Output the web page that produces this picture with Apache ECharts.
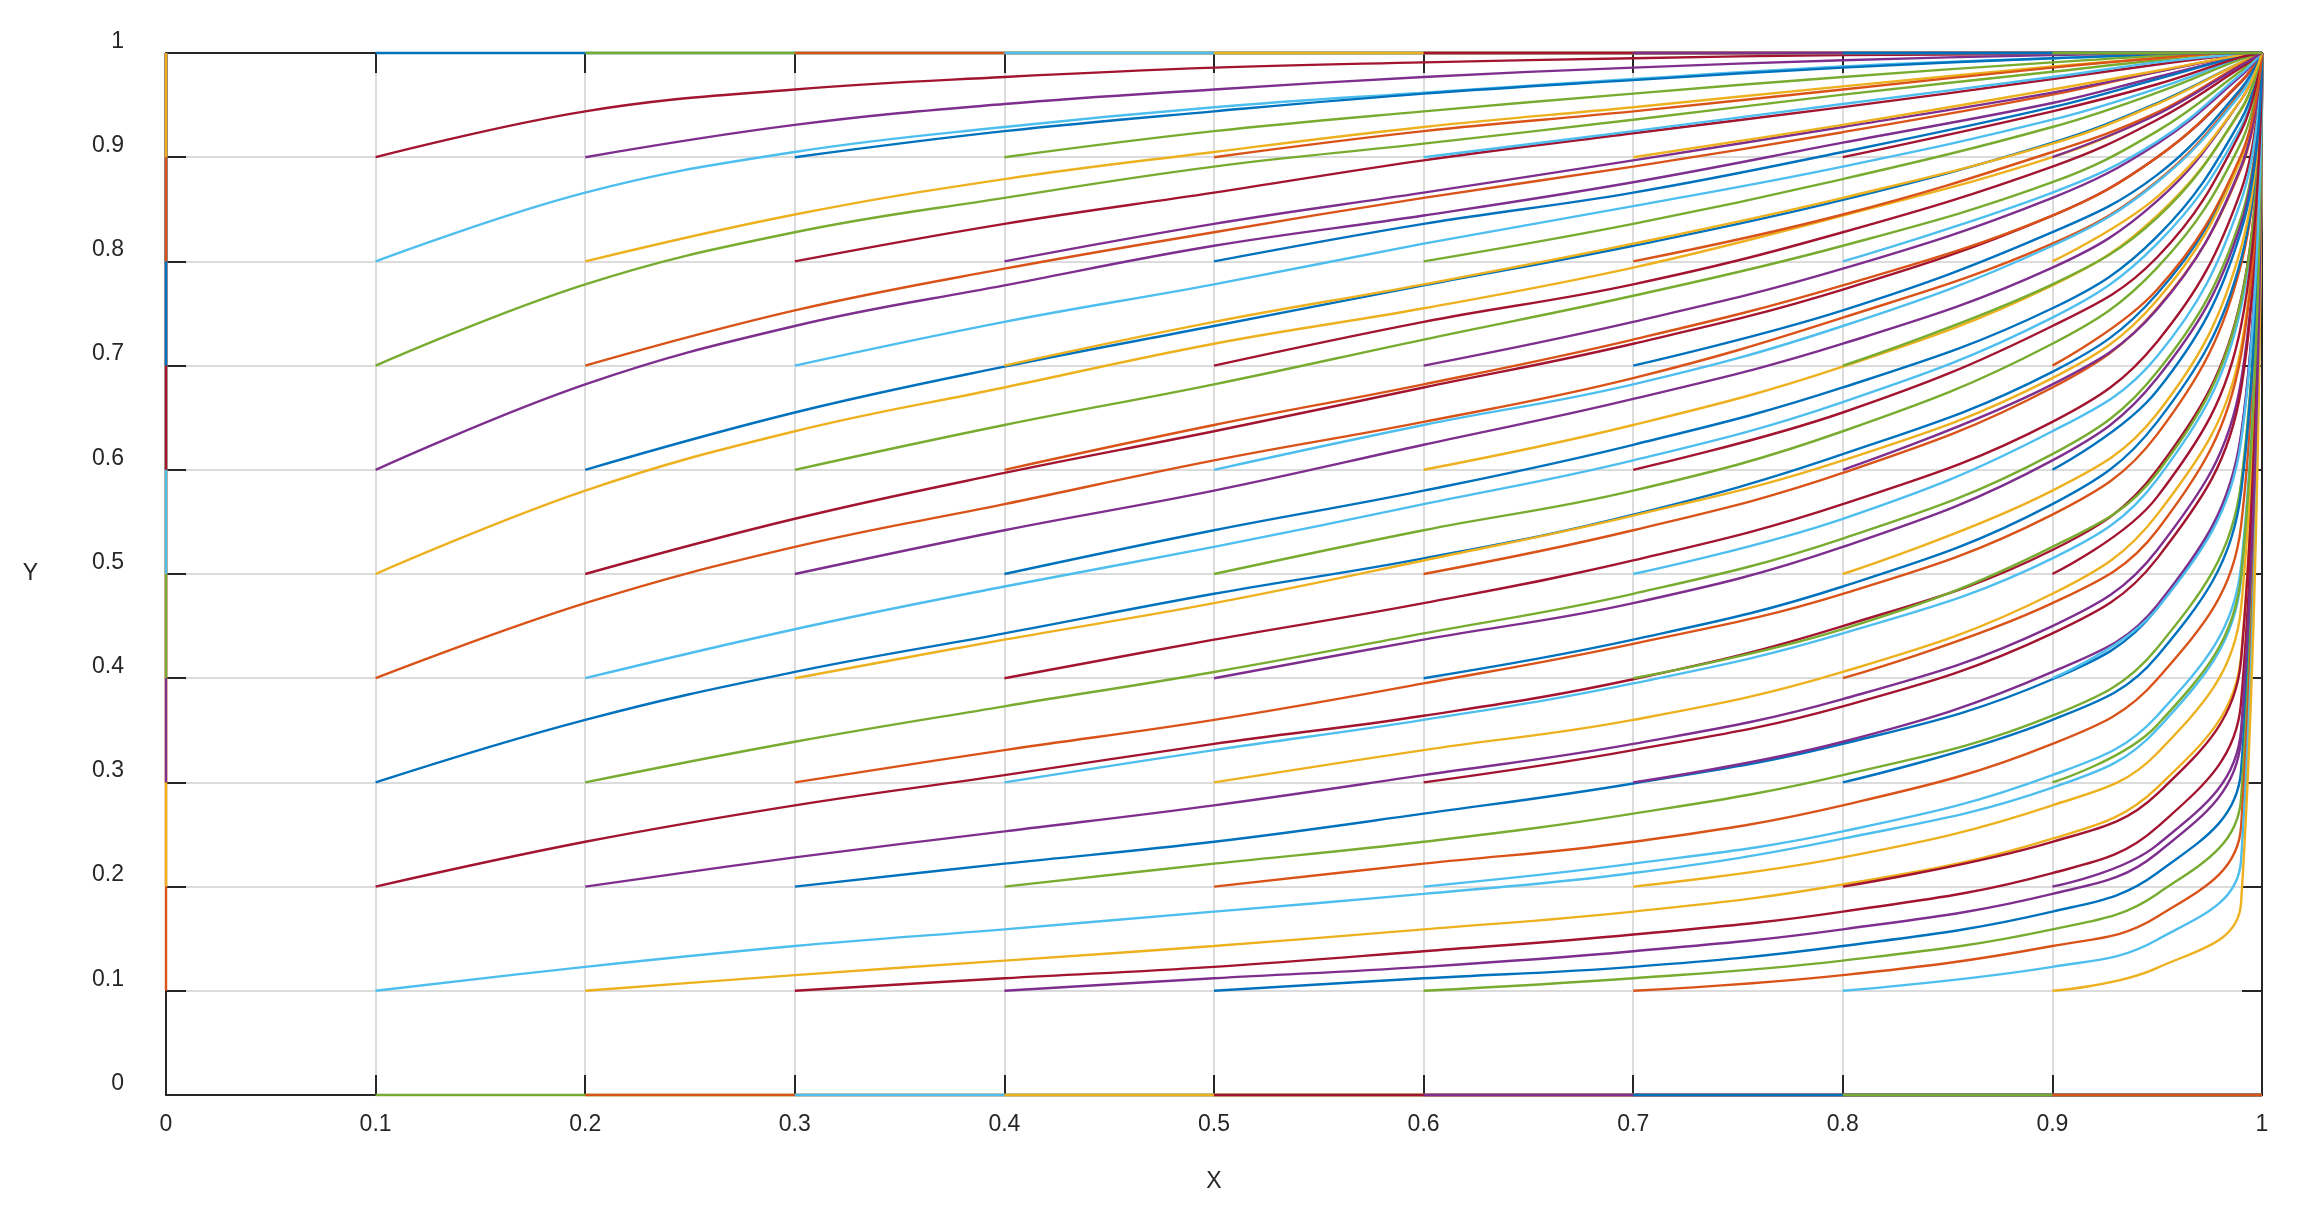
<!DOCTYPE html>
<html>
<head>
<meta charset="utf-8">
<script src="https://cdn.jsdelivr.net/npm/echarts@6/dist/echarts.min.js"></script>
<style>
  html, body { margin: 0; padding: 0; background: #fff; }
  #ch-main { width: 2297px; height: 1209px; }
</style>
</head>
<body>
<div id="ch-main"></div>
<script>
// start points of the curves (x0 outer loop, y0 inner loop, 0..1 step 0.1)
let startX = [0, 0.1, 0.2, 0.3, 0.4, 0.5, 0.6, 0.7, 0.8, 0.9, 1]
let startY = [0, 0.1, 0.2, 0.3, 0.4, 0.5, 0.6, 0.7, 0.8, 0.9, 1]
// x positions read along each curve after its start (the curve ends at 1)
let sampleX = [0.1, 0.2, 0.3, 0.4, 0.5, 0.6, 0.7, 0.8, 0.9, 0.95, 0.99]

// y values, one row per y0 = 0.1 .. 0.9
let from01 = [
    [.123, .143, .159, .176, .193, .213, .246, .295, .351, .494],
    [.243, .278, .307, .337, .364, .399, .450, .523, .600, .764],
    [.360, .406, .443, .481, .515, .557, .615, .694, .769, .900],
    [.472, .526, .567, .609, .646, .688, .746, .817, .877, .963],
    [.580, .637, .679, .721, .755, .794, .844, .900, .942, .989],
    [.682, .738, .777, .815, .844, .876, .914, .952, .977, .997],
    [.778, .828, .861, .891, .913, .936, .960, .982, .993, 1.0],
    [.866, .905, .929, .948, .962, .975, .987, .995, .998, 1.0],
    [.944, .965, .977, .986, .991, .995, .998, .999, 1.0, 1.0]
]
let from02 = [
    [.115, .129, .143, .159, .176, .202, .246, .295, .421],
    [.228, .253, .278, .307, .337, .380, .450, .523, .685],
    [.339, .373, .406, .443, .481, .534, .615, .694, .842],
    [.447, .488, .526, .567, .609, .665, .746, .817, .929],
    [.553, .597, .637, .679, .721, .773, .844, .900, .972],
    [.655, .699, .738, .777, .815, .859, .914, .952, .991],
    [.753, .793, .828, .861, .891, .924, .960, .982, .998],
    [.845, .879, .905, .929, .948, .968, .987, .995, 1.0],
    [.931, .951, .965, .977, .986, .993, .998, .999, 1.0]
]
let from03 = [
    [.112, .123, .138, .154, .176, .213, .257, .376],
    [.222, .243, .270, .299, .337, .399, .467, .631],
    [.331, .360, .395, .433, .481, .557, .634, .797],
    [.437, .472, .513, .556, .609, .688, .763, .898],
    [.542, .580, .624, .668, .721, .794, .858, .955],
    [.643, .682, .725, .767, .815, .876, .925, .983],
    [.742, .778, .817, .853, .891, .936, .966, .995],
    [.836, .866, .897, .923, .948, .975, .989, .999],
    [.925, .944, .961, .974, .986, .995, .998, 1.0]
]
let from04 = [
    [.112, .123, .138, .159, .193, .232, .341],
    [.222, .243, .270, .307, .364, .429, .587],
    [.331, .360, .395, .443, .515, .591, .756],
    [.437, .472, .513, .567, .646, .723, .868],
    [.542, .580, .624, .679, .755, .824, .936],
    [.643, .682, .725, .777, .844, .900, .973],
    [.742, .778, .817, .861, .913, .951, .991],
    [.836, .866, .897, .929, .962, .982, .998],
    [.925, .944, .961, .977, .991, .997, 1.0]
]
let from05 = [
    [.112, .123, .143, .176, .213, .311],
    [.222, .243, .278, .337, .399, .546],
    [.331, .360, .406, .481, .557, .717],
    [.437, .472, .526, .609, .688, .836],
    [.542, .580, .637, .721, .794, .914],
    [.643, .682, .738, .815, .876, .961],
    [.742, .778, .828, .891, .936, .986],
    [.836, .866, .905, .948, .975, .997],
    [.925, .944, .965, .986, .995, 1.0]
]
let from06 = [
    [.112, .129, .159, .193, .284],
    [.222, .253, .307, .364, .507],
    [.331, .373, .443, .515, .677],
    [.437, .488, .567, .646, .802],
    [.542, .597, .679, .755, .889],
    [.643, .699, .777, .844, .945],
    [.742, .793, .861, .913, .978],
    [.836, .879, .929, .962, .994],
    [.925, .951, .977, .991, .999]
]
let from07 = [
    [.115, .143, .171, .257],
    [.228, .278, .328, .467],
    [.339, .406, .470, .634],
    [.447, .526, .597, .763],
    [.553, .637, .709, .858],
    [.655, .738, .804, .925],
    [.753, .828, .883, .966],
    [.845, .905, .943, .989],
    [.931, .965, .983, .998]
]
let from08 = [
    [.123, .149, .225],
    [.243, .289, .417],
    [.360, .421, .578],
    [.472, .542, .710],
    [.580, .654, .813],
    [.682, .754, .891],
    [.778, .842, .946],
    [.866, .915, .980],
    [.944, .970, .996]
]
let from09 = [
    [.122, .184],
    [.240, .350],
    [.355, .498],
    [.467, .627],
    [.574, .738],
    [.676, .829],
    [.773, .902],
    [.862, .955],
    [.941, .988]
]
let curveRows = [null, from01, from02, from03, from04, from05, from06, from07, from08, from09, null]

let palette = ['#0072BD', '#D95319', '#EDB120', '#7E2F8E', '#77AC30', '#4DBEEE', '#A2142F']

let series = []
let k = 0
for (let i = 0; i < startX.length; i++) {
    for (let j = 0; j < startY.length; j++) {
        let x0 = startX[i], y0 = startY[j]
        let data = []
        let curved = false
        if (i == 0) {
            if (j > 0 && j < 10) data = [[0, y0], [0, 1]]
        } else if (i < 10) {
            if (j == 0) data = [[x0, 0], [1, 0]]
            else if (j == 10) data = [[x0, 1], [1, 1]]
            else {
                let row = curveRows[i][j - 1]
                let xs = sampleX.slice(i)
                data.push([x0, y0])
                for (let m = 0; m < row.length; m++) data.push([xs[m], row[m]])
                data.push([1, 1])
                curved = true
            }
        }
        series.push({
            type: 'line',
            data: data,
            showSymbol: false,
            silent: true,
            smooth: curved ? 0.4 : false,
            lineStyle: { color: palette[k % 7], width: 2.4 },
            clip: false
        })
        k++
    }
}

let labelStyle = { color: '#262626', fontSize: 23, fontFamily: 'Liberation Sans' }
let lineCfg = { onZero: false, lineStyle: { color: '#262626', width: 2 } }
let tickCfg = { inside: true, length: 20, lineStyle: { color: '#262626', width: 2 } }
let main = echarts.init(document.getElementById('ch-main'))
let option = {
    animation: false,
    grid: { left: 166, right: 35, top: 53, bottom: 114 },
    xAxis: [
        {
            type: 'value', min: 0, max: 1, interval: 0.1,
            name: 'X', nameLocation: 'middle', nameGap: 75,
            nameTextStyle: labelStyle,
            axisLine: lineCfg, axisTick: tickCfg,
            axisLabel: Object.assign({ margin: 18 }, labelStyle),
            splitLine: { show: true, lineStyle: { color: '#dcdcdc', width: 2 } }
        },
        {
            type: 'value', min: 0, max: 1, interval: 0.1, position: 'top',
            axisLine: lineCfg, axisTick: tickCfg,
            axisLabel: { show: false },
            splitLine: { show: false }
        }
    ],
    yAxis: [
        {
            type: 'value', min: 0, max: 1, interval: 0.1,
            name: 'Y', nameLocation: 'middle', nameGap: 128, nameRotate: 0,
            nameTextStyle: labelStyle,
            axisLine: lineCfg, axisTick: tickCfg,
            axisLabel: Object.assign({ margin: 42, verticalAlign: 'bottom' }, labelStyle),
            splitLine: { show: true, lineStyle: { color: '#dcdcdc', width: 2 } }
        },
        {
            type: 'value', min: 0, max: 1, interval: 0.1, position: 'right',
            axisLine: lineCfg, axisTick: tickCfg,
            axisLabel: { show: false },
            splitLine: { show: false }
        }
    ],
    series: series
}
main.setOption(option)
</script>
</body>
</html>
